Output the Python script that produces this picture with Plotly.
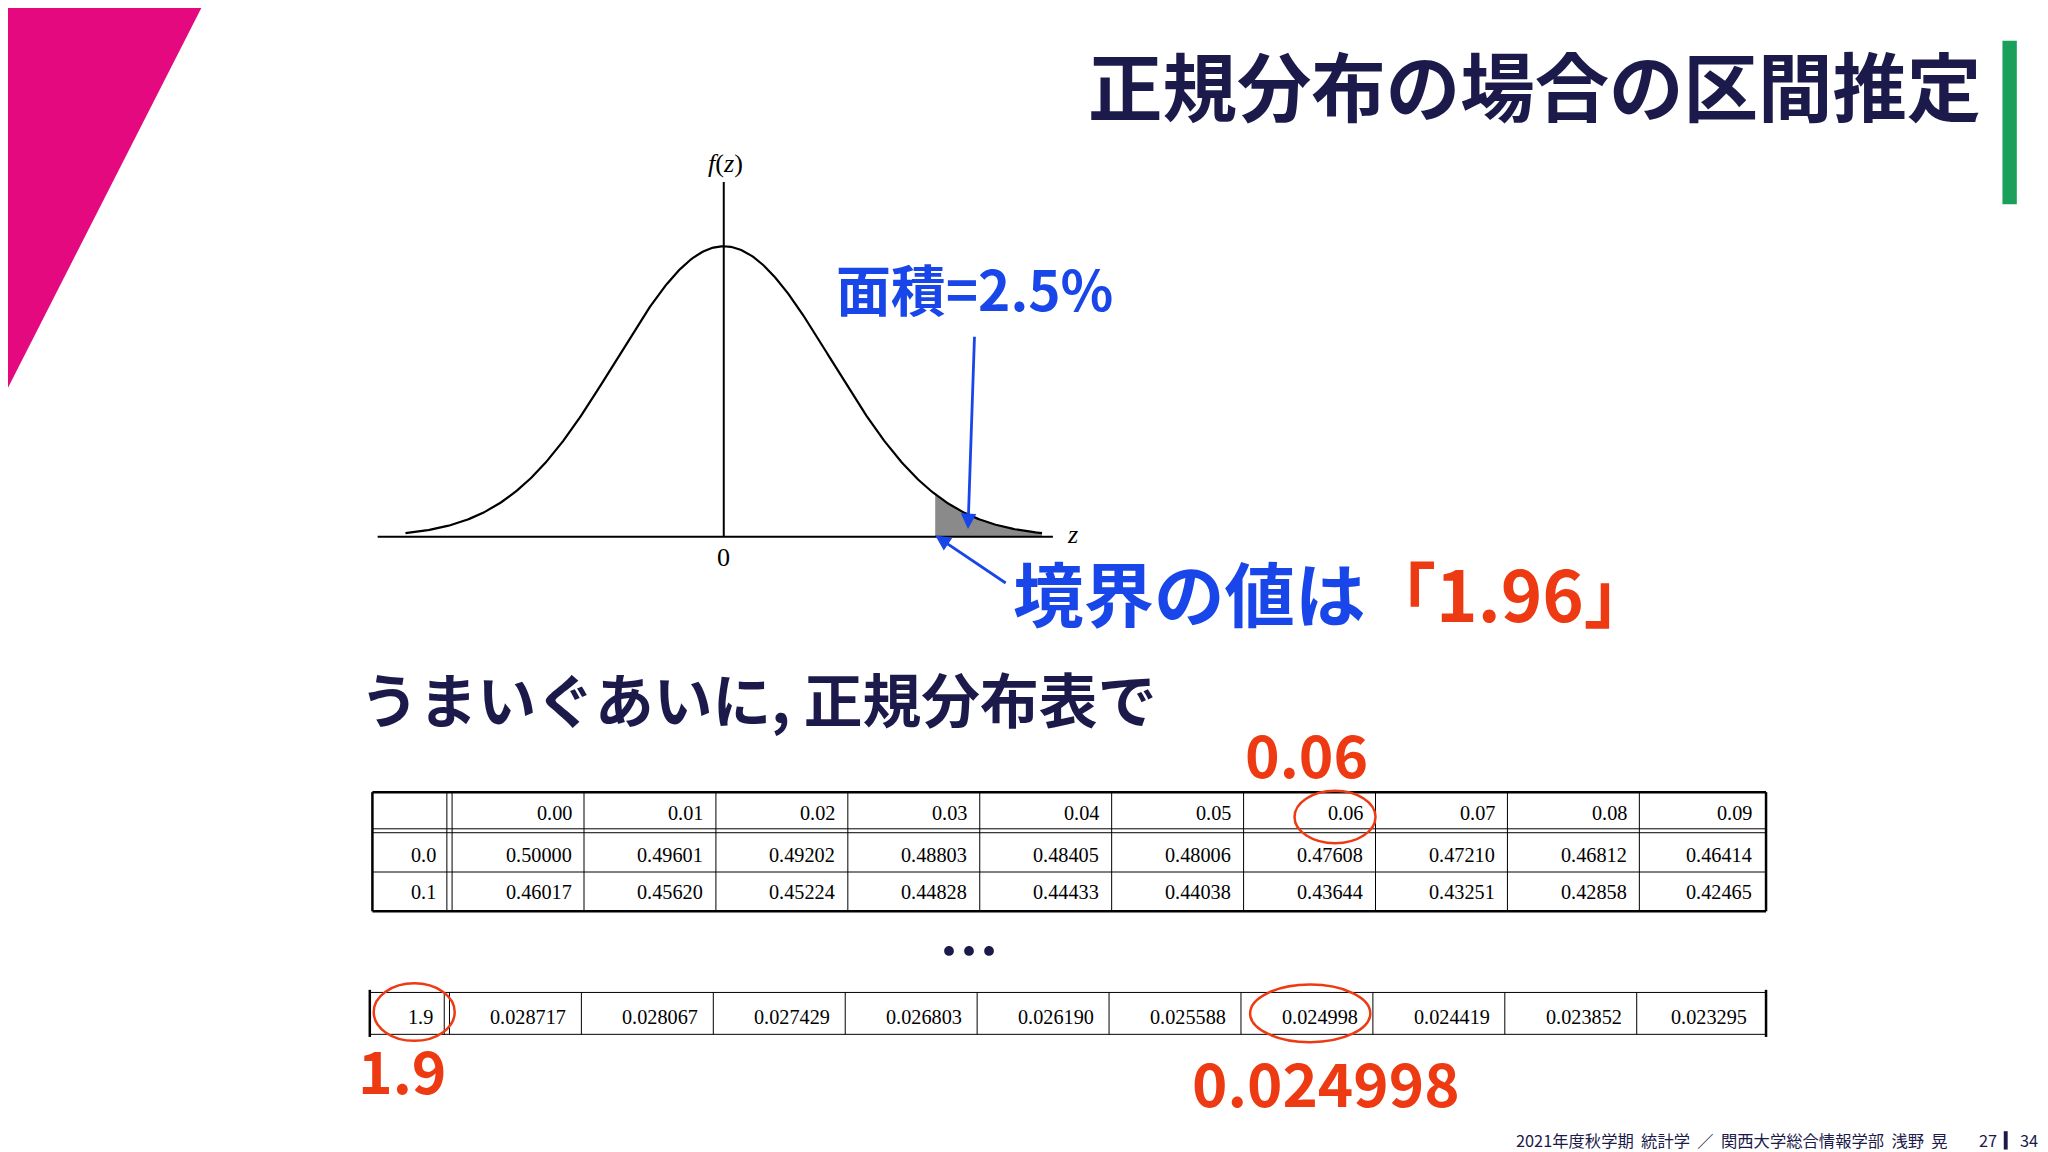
import numpy as np
import plotly.graph_objects as go

# ---- data ----
col_labels = ["0.00","0.01","0.02","0.03","0.04","0.05","0.06","0.07","0.08","0.09"]
row_labels = ["0.0","0.1"]
row_values = [
    ["0.50000","0.49601","0.49202","0.48803","0.48405","0.48006","0.47608","0.47210","0.46812","0.46414"],
    ["0.46017","0.45620","0.45224","0.44828","0.44433","0.44038","0.43644","0.43251","0.42858","0.42465"],
]
row19_label = "1.9"
row19_values = ["0.028717","0.028067","0.027429","0.026803","0.026190","0.025588","0.024998","0.024419","0.023852","0.023295"]
z_crit = 1.96
z_min, z_max = -2.95, 2.95

W, H = 1568, 880
S = 2048 / W
NAVY = "#1b1a4a"; BLUE = "#1846e8"; RED = "#ee3a12"
JP = "Noto Sans CJK JP"; SERIF = "Liberation Serif"

fig = go.Figure()
shapes = []; ann = []

def text(x, y, t, size, color, font=JP, xanchor="center", bold=False):
    if bold:
        t = "<b>" + t + "</b>"
    ann.append(dict(x=x, y=y, xref="x", yref="y", text=t, showarrow=False,
                    xanchor=xanchor, yanchor="middle",
                    font=dict(family=font, size=size * S, color=color)))

def line(x0, y0, x1, y1, w=1.2, color="black"):
    shapes.append(dict(type="line", xref="x", yref="y", x0=x0, y0=y0, x1=x1, y1=y1,
                       line=dict(color=color, width=w)))

shapes.append(dict(type="path", xref="x", yref="y", path="M0,0 L148,0 L0,290 Z",
                   fillcolor="#e4097f", line=dict(width=0)))
shapes.append(dict(type="rect", xref="x", yref="y", x0=1527, x1=1538, y0=25, y1=150,
                   fillcolor="#1aa05a", line=dict(width=0)))
text(1512, 58, "正規分布の場合の区間推定", 57, NAVY, xanchor="right", bold=True)

# ---- normal curve on second axes ----
px0, px1, pz0, pscale = 283, 800, 548, 82.6
ytop, ybase, ypeak = 130, 404, 182
peak = 1 / np.sqrt(2 * np.pi)
z = np.linspace(z_min, z_max, 400)
pdf = np.exp(-z**2 / 2) / np.sqrt(2 * np.pi)
zt = np.linspace(z_crit, z_max, 100)
pt = np.exp(-zt**2 / 2) / np.sqrt(2 * np.pi)
fig.add_trace(go.Scatter(x=np.r_[zt, zt[::-1]], y=np.r_[pt, np.zeros_like(zt)], fill="toself",
                         fillcolor="#8a8a8a", line=dict(width=0), xaxis="x2", yaxis="y2", hoverinfo="skip"))
fig.add_trace(go.Scatter(x=z, y=pdf, mode="lines", line=dict(color="black", width=2.2),
                         xaxis="x2", yaxis="y2", hoverinfo="skip"))
line(283, 404, 800, 404, 2)
line(548, 404, 548, 133, 2)
text(549, 119, "<i>f</i>(<i>z</i>)", 20, "black", SERIF)
text(548, 420, "0", 20, "black", SERIF)
text(815, 402, "<i>z</i>", 20, "black", SERIF)

text(740, 213, "面積=2.5%", 42, BLUE, bold=True)
ann.append(dict(x=735, y=398, ax=740, ay=250, xref="x", yref="y", axref="x", ayref="y",
                showarrow=True, arrowhead=2, arrowsize=1.1, arrowwidth=2.8, arrowcolor=BLUE, text=""))
ann.append(dict(x=710, y=403, ax=765, ay=440, xref="x", yref="y", axref="x", ayref="y",
                showarrow=True, arrowhead=2, arrowsize=1.1, arrowwidth=2.8, arrowcolor=BLUE, text=""))
ann.append(dict(x=768, y=445, xref="x", yref="y", showarrow=False, xanchor="left", yanchor="middle",
                text="<b><span style='color:%s'>境界の値は</span><span style='color:%s'>「1.96」</span></b>" % (BLUE, RED),
                font=dict(family=JP, size=54 * S)))
text(268, 527, "うまいぐあいに, 正規分布表で", 45, NAVY, xanchor="left", bold=True)

# ---- tables ----
bounds = [340 + 101 * i for i in range(11)]
bounds[-1] = 1345
line(279, 599, 1346, 599, 2.5); line(279, 690, 1346, 690, 2.5)
line(279, 627, 1346, 627, 1); line(279, 630, 1346, 630, 1)
line(279, 660, 1346, 660, 1)
line(279, 599, 279, 690, 2.5); line(1346, 599, 1346, 690, 2.5)
line(336, 599, 336, 690, 1); line(340, 599, 340, 690, 1)
for b in bounds[1:-1]:
    line(b, 599, b, 690, 1)
for i, c in enumerate(col_labels):
    text(bounds[i + 1] - 8, 615, c, 15.5, "black", SERIF, xanchor="right")
for r, (lab, vals) in enumerate(zip(row_labels, row_values)):
    yy = 647 + 28 * r
    text(329, yy, lab, 15.5, "black", SERIF, xanchor="right")
    for i, v in enumerate(vals):
        text(bounds[i + 1] - 8, yy, v, 15.5, "black", SERIF, xanchor="right")
text(736, 718, "<b>…</b>", 46, NAVY)

line(277, 752, 1346, 752, 1); line(277, 784, 1346, 784, 1)
line(277, 750, 277, 786, 2.5); line(1346, 750, 1346, 786, 2.5)
line(334, 752, 334, 784, 1); line(338, 752, 338, 784, 1)
for b in bounds[1:-1]:
    line(b - 2, 752, b - 2, 784, 1)
text(327, 771, row19_label, 15.5, "black", SERIF, xanchor="right")
for i, v in enumerate(row19_values):
    text(bounds[i + 1] - 12, 771, v, 15.5, "black", SERIF, xanchor="right")

for (cx, cy, rx, ry) in [(1016, 618, 31, 20), (311, 767, 31, 22), (997, 768, 46, 22)]:
    shapes.append(dict(type="circle", xref="x", yref="y", x0=cx - rx, x1=cx + rx, y0=cy - ry, y1=cy + ry,
                       line=dict(color=RED, width=2.5)))
text(994, 569, "0.06", 45, RED, bold=True)
text(302, 810, "1.9", 45, RED, bold=True)
text(1009, 819, "0.024998", 46, RED, bold=True)

text(1487, 865, "2021年度秋学期  統計学  ／  関西大学総合情報学部  浅野  晃", 12.5, NAVY, xanchor="right")
text(1516, 865, "27", 12.5, NAVY)
shapes.append(dict(type="rect", xref="x", yref="y", x0=1528, x1=1531, y0=858, y1=872,
                   fillcolor=NAVY, line=dict(width=0)))
text(1547, 865, "34", 12.5, NAVY)

fig.update_layout(
    width=2048, height=1152, margin=dict(l=0, r=0, t=0, b=0),
    paper_bgcolor="white", plot_bgcolor="rgba(0,0,0,0)", showlegend=False,
    xaxis=dict(range=[0, W], visible=False, domain=[0, 1]),
    yaxis=dict(range=[H, 0], visible=False, domain=[0, 1]),
    xaxis2=dict(range=[(px0 - pz0) / pscale, (px1 - pz0) / pscale], domain=[px0 / W, px1 / W],
                visible=False, anchor="y2"),
    yaxis2=dict(range=[0, peak * (ybase - ytop) / (ybase - ypeak)],
                domain=[1 - ybase / H, 1 - ytop / H], visible=False, anchor="x2"),
    shapes=shapes, annotations=ann,
)
fig.write_html("out.html")
